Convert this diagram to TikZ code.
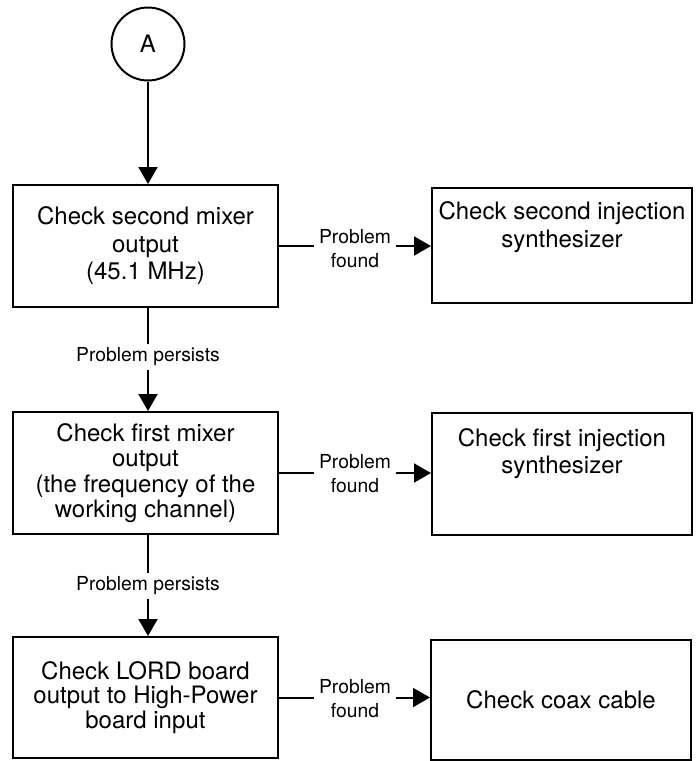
\documentclass[tikz,border=0pt]{standalone}
\usepackage{fontspec}
\setmainfont{TeX Gyre Heros}
\usetikzlibrary{arrows.meta}
\tikzset{
  box/.style={draw, line width=2pt, rectangle, align=center, inner sep=0pt,
    font=\fontsize{24}{27.5}\selectfont},
  lbl/.style={align=center, inner xsep=5pt, inner ysep=4pt, font=\fontsize{19.3}{24}\selectfont},
  conn/.style={line width=2pt},
  arr/.style={line width=2pt, -{Triangle[length=17pt,width=19pt]}},
}
\begin{document}
\begin{tikzpicture}[x=1pt,y=-1pt]
\useasboundingbox (0,0) rectangle (698,761);
\node[draw, circle, line width=2pt, minimum size=73pt, inner sep=0pt, font=\fontsize{24}{27.5}\selectfont] (A) at (148,44) {A};

\node[box, minimum width=265pt, minimum height=122pt] (b1) at (145.5,246) {Check second mixer\\output\\(45.1 MHz)};
\node[box, minimum width=260pt, minimum height=115pt] (b2) at (562,245.5) {Check second injection\\synthesizer\\[14pt]};
\node[box, minimum width=265pt, minimum height=122pt, font=\fontsize{24}{25.5}\selectfont] (b3) at (145.5,473) {Check first mixer\\output\\(the frequency of the\\working channel)};
\node[box, minimum width=260pt, minimum height=122pt] (b4) at (562,474) {Check first injection\\synthesizer\\[18pt]};
\node[box, minimum width=265pt, minimum height=121pt, font=\fontsize{24}{24.5}\selectfont] (b5) at (145.5,697.5) {Check LORD board\\output to High-Power\\board input};
\node[box, minimum width=260pt, minimum height=120pt] (b6) at (561,700) {Check coax cable};

\node[lbl] (f1) at (355,249) {Problem\\found};
\node[lbl] (f2) at (355,474) {Problem\\found};
\node[lbl] (f3) at (355,699) {Problem\\found};
\node[lbl] (p1) at (148,357) {Problem persists};
\node[lbl] (p2) at (148,586) {Problem persists};

\draw[arr] (A) -- (A |- b1.north);
\draw[conn] (b1.south -| A) -- (p1.north);
\draw[arr] (p1.south) -- (p1 |- b3.north);
\draw[conn] (b3.south -| A) -- (p2.north);
\draw[arr] (p2.south) -- (p2 |- b5.north);

\draw[conn] (b1.east) -- (b1.east -| f1.west);
\draw[arr] (f1.east |- b1.east) -- (b2.west |- b1.east);
\draw[conn] (b3.east) -- (b3.east -| f2.west);
\draw[arr] (f2.east |- b3.east) -- (b4.west |- b3.east);
\draw[conn] (b5.east) -- (b5.east -| f3.west);
\draw[arr] (f3.east |- b5.east) -- (b6.west |- b5.east);
\end{tikzpicture}
\end{document}
